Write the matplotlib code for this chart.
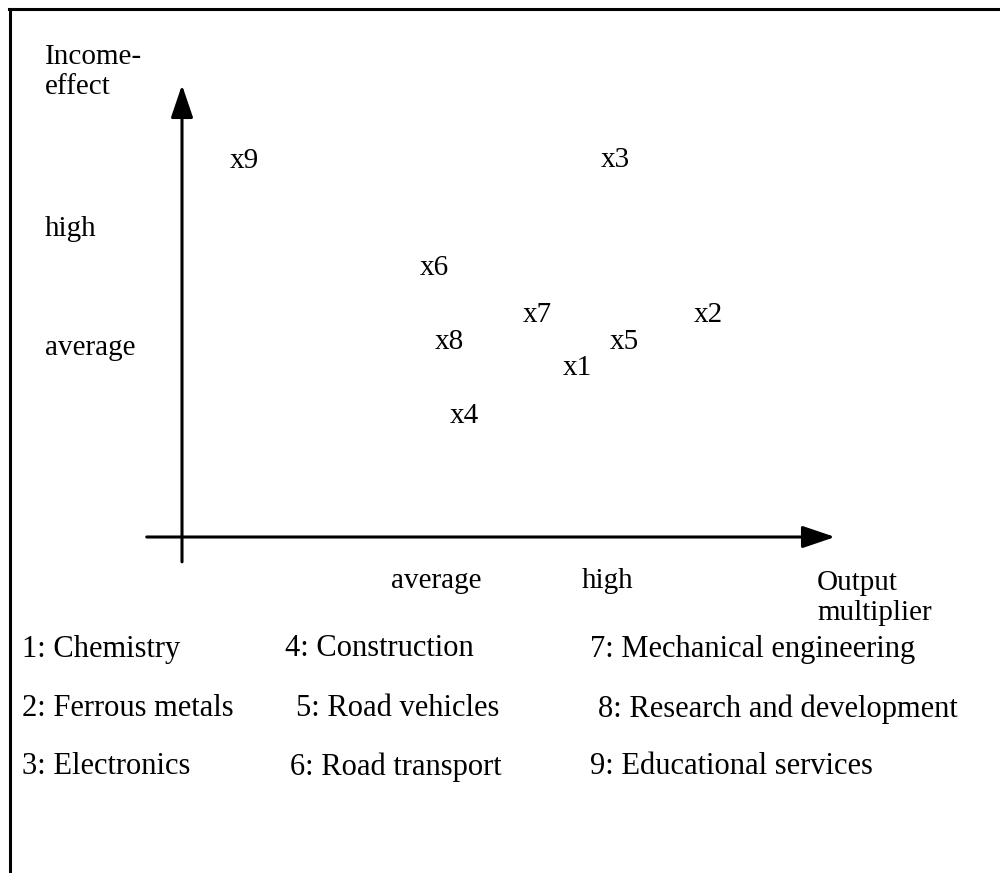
import matplotlib
matplotlib.use('Agg')
import matplotlib.pyplot as plt
from matplotlib.lines import Line2D
from matplotlib.patches import ArrowStyle
from matplotlib.transforms import blended_transform_factory

plt.rcParams['font.family'] = ['Liberation Serif', 'DejaVu Serif']
FS = 21

# sectors placed by output multiplier (x) and income effect (y), 0-10 scale
labels = ['x1', 'x2', 'x3', 'x4', 'x5', 'x6', 'x7', 'x8', 'x9']
output_mult = [6.05, 8.06, 6.63, 4.33, 6.78, 3.86, 5.44, 4.09, 0.96]
income_eff = [3.74, 4.91, 8.33, 2.68, 4.32, 5.95, 4.91, 4.32, 8.32]

x_ticks = [3.89, 6.52]
x_ticklabels = ['average', 'high']
y_ticks = [6.81, 4.18]
y_ticklabels = ['high', 'average']

sectors = ['1: Chemistry', '2: Ferrous metals', '3: Electronics',
           '4: Construction', '5: Road vehicles', '6: Road transport',
           '7: Mechanical engineering', '8: Research and development',
           '9: Educational services']

W, H = 1000, 873
fig = plt.figure(figsize=(10, 8.73), dpi=100)

# frame lines (top and left only)
fig.add_artist(Line2D([9 / W, 1.0], [1 - 9 / H, 1 - 9 / H], color='black', lw=2.2))
fig.add_artist(Line2D([10 / W, 10 / W], [1 - 9 / H, 0], color='black', lw=2.2))

# diagram axes: origin at pixel (182, 537), (10, 10) at (835, 85)
ax = fig.add_axes([182 / W, 1 - 537 / H, (835 - 182) / W, (537 - 85) / H])
ax.set_xlim(0, 10)
ax.set_ylim(0, 10)
ax.axis('off')

style = ArrowStyle('-|>', head_length=1.0, head_width=0.34)
for start, end in [((-0.54, 0), (10, 0)), ((0, -0.55), (0, 10))]:
    ax.annotate('', xy=end, xytext=start,
                arrowprops=dict(arrowstyle=style, mutation_scale=20, color='black',
                                lw=2.2, shrinkA=0, shrinkB=0),
                annotation_clip=False)

for lab, xv, yv in zip(labels, output_mult, income_eff):
    ax.text(xv, yv, lab, ha='center', va='center', fontsize=FS, clip_on=False)

for xv, t in zip(x_ticks, x_ticklabels):
    ax.text(xv, -0.97, t, ha='center', va='center', fontsize=FS, clip_on=False)
ytrans = blended_transform_factory(fig.transFigure, ax.transData)
for yv, t in zip(y_ticks, y_ticklabels):
    ax.text(45 / W, yv, t, ha='left', va='center', fontsize=FS,
            transform=ytrans, clip_on=False)

fig.text(45 / W, 1 - 72 / H, 'Income-\neffect', ha='left', va='center',
         fontsize=FS, linespacing=1.25)
fig.text(817 / W, 1 - 598 / H, 'Output\nmultiplier', ha='left', va='center',
         fontsize=FS, linespacing=1.25)

# legend of sectors, three columns
col_x = [[22, 22, 22], [285, 296, 290], [590, 598, 590]]
row_y = [647, 707, 765]
for i, name in enumerate(sectors):
    c, r = divmod(i, 3)
    fig.text(col_x[c][r] / W, 1 - (row_y[r] + 2) / H, name, ha='left', va='center',
             fontsize=22)

fig.savefig('out.png', dpi=100, facecolor='white')
